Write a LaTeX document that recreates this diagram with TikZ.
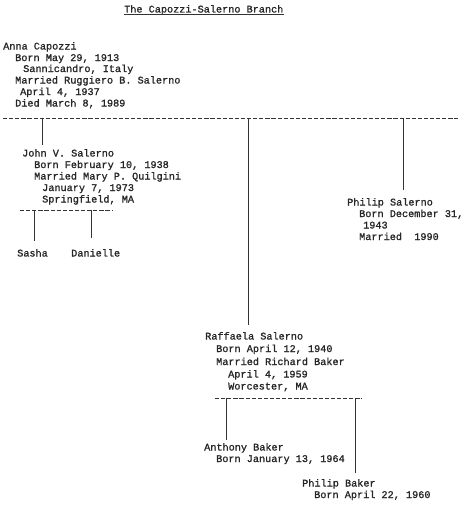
\documentclass[tikz,border=0pt]{standalone}
\usepackage{fontspec}
\setmonofont[FakeBold=1.2]{Liberation Mono}
\begin{document}
\begin{tikzpicture}[x=1pt,y=-1pt,
  txt/.style={anchor=base west,inner sep=0pt,font=\ttfamily\fontsize{10.2}{11.5}\selectfont,text=black!85},
  typedash/.style={draw=black!80,line width=0.7pt,dash pattern=on 4.2pt off 1.9pt},
  conn/.style={draw=black!80,line width=0.6pt}]
\useasboundingbox (0,0) rectangle (462,506);
% title
\node[txt] (title) at (124,12.5) {The Capozzi-Salerno Branch};
\draw[conn] ([yshift=-2pt]title.base west) -- ([yshift=-2pt]title.base east);
% Anna
\node[txt] (anna) at (3,49.5) {Anna Capozzi};
\node[txt] (anna2) at (15,61) {Born May 29, 1913};
\node[txt] (anna3) at (23,72) {Sannicandro, Italy};
\node[txt] (anna4) at (15,83.5) {Married Ruggiero B. Salerno};
\node[txt] (anna5) at (20,95) {April 4, 1937};
\node[txt] (anna6) at (15,106.5) {Died March 8, 1989};
% main dashed line
\coordinate (dl) at (3,118);
\coordinate (dr) at (458,118);
\draw[typedash] (dl) -- (dr);
\coordinate (t1) at (42,118);
\coordinate (t2) at (248,118);
\coordinate (t3) at (403,118);
% John
\node[txt] (john) at (22,156.5) {John V. Salerno};
\node[txt] (john2) at (34,168) {Born February 10, 1938};
\node[txt] (john3) at (34,179.5) {Married Mary P. Quilgini};
\node[txt] (john4) at (42,191) {January 7, 1973};
\node[txt] (john5) at (42,202.5) {Springfield, MA};
\coordinate (e1) at (42,145);
\draw[conn] (t1) -- (e1);
\coordinate (jl) at (20,210);
\coordinate (jr) at (112,210);
\draw[typedash] (jl) -- (jr);
\node[txt] (sasha) at (17,256.5) {Sasha};
\node[txt] (dani) at (71,256.5) {Danielle};
\coordinate (s1) at (34,210);
\coordinate (s2) at (34,241);
\coordinate (d1) at (91,210);
\coordinate (d2) at (91,238);
\draw[conn] (s1) -- (s2);
\draw[conn] (d1) -- (d2);
% Philip Salerno
\node[txt] (phil) at (347,205.5) {Philip Salerno};
\node[txt] (phil2) at (359,217) {Born December 31,};
\node[txt] (phil3) at (363,228.5) {1943};
\node[txt] (phil4) at (359,240) {Married\ \ 1990};
\coordinate (e3) at (403,190);
\draw[conn] (t3) -- (e3);
% Raffaela
\node[txt] (raf) at (205,339.5) {Raffaela Salerno};
\node[txt] (raf2) at (216,352) {Born April 12, 1940};
\node[txt] (raf3) at (216,365) {Married Richard Baker};
\node[txt] (raf4) at (228,377.5) {April 4, 1959};
\node[txt] (raf5) at (228,389.5) {Worcester, MA};
\coordinate (e2) at (248,325);
\draw[conn] (t2) -- (e2);
\coordinate (rl) at (215,398);
\coordinate (rr) at (362,398);
\draw[typedash] (rl) -- (rr);
\node[txt] (anth) at (204,450.5) {Anthony Baker};
\node[txt] (anth2) at (216,462) {Born January 13, 1964};
\node[txt] (pb) at (302,486.5) {Philip Baker};
\node[txt] (pb2) at (314,498) {Born April 22, 1960};
\coordinate (a1) at (226,398);
\coordinate (a2) at (226,440);
\coordinate (p1) at (355,398);
\coordinate (p2) at (355,473);
\draw[conn] (a1) -- (a2);
\draw[conn] (p1) -- (p2);
\end{tikzpicture}
\end{document}
